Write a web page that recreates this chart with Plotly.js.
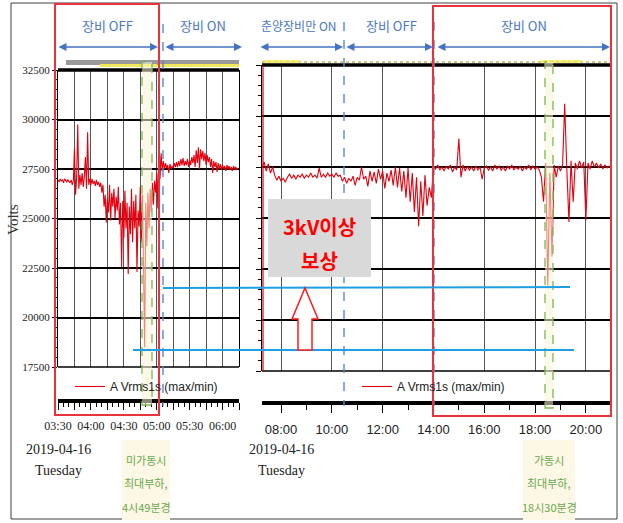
<!DOCTYPE html>
<html><head><meta charset="utf-8">
<script src="https://cdn.plot.ly/plotly-3.0.1.min.js"></script>
<style>html,body{margin:0;padding:0;background:#fff}#chart{width:623px;height:523px}</style>
</head><body><div id="chart"></div>
<script>
// ---------------- data ----------------
const DAY = '2019-04-16';
const seriesName = 'A Vrms1s (max/min)';

// left panel: samples every 1 minute from 03:30
const leftStart = '03:30';
const leftStepMin = 1;
const leftVolts = [
  26950,26850,27000,26900,26950,26800,27000,26900,26850,26950,26900,26800,26950,26700,26900,
  28550,26200,27100,29750,26500,27200,26700,27300,26600,27100,28100,26500,29350,26700,27000,
  26700,27000,26750,26900,26650,26950,26700,26850,26600,26800,
  26300,26700,25600,26200,24800,26000,25300,26700,24900,26300,25600,26500,25000,26100,25400,26600,24700,25800,
  22550,25900,24000,26400,24500,25800,22200,25600,24200,26500,23800,25900,24500,26200,22300,25400,24600,
  26600,23800,26200,22400,18500,25800,23600,26300,24500,26500,25300,26800,25700,26900,26300,27300,25500,
  29400,27000,28300,27400,27900,27500,27800,27550,27700,27300,27750,27500,27650,27550,27800,27600,27850,27600,
  27900,27650,28000,27700,28050,27650,27900,27700,28000,27600,27950,27700,28100,27800,28200,27600,28450,27800,
  28600,27500,28500,28000,28400,27900,28300,27700,28200,27850,28100,27600,28000,27300,27900,27600,27850,27350,
  27800,27500,27750,27450,
  27700,27500,27650,27400,27700,27500,27650,27450,27600,27400,27650,27500,27600,27450,27550
];

// right panel: samples every 5 minutes from 07:15
const rightStart = '07:15';
const rightStepMin = 5;
const rightVolts = [
  27450,27750,27300,27650,27200,27500,27100,
  26850,27050,26800,26950,26750,
  27000,27150,26950,27100,26900,27100,27000,27150,26950,27100,27000,27200,27000,27100,26950,
  27450,27000,
  27150,27000,27200,27050,27150,27000,27200,27050,
  27100,26800,27000,26700,26950,26800,27050,26600,
  27000,26850,27500,26900,27050,26550,27300,26800,27250,26700,27400,26900,
  27300,26450,27200,26800,27350,26600,27500,26500,27450,26300,27300,26000,
  27450,25800,27200,25300,27000,24600,26800,25100,27100,25600,26500,26000,
  27500,
  27400,27600,27350,27500,27300,27550,27400,27600,27250,27500,27350,
  28900,27000,27600,27300,27550,27350,27500,27300,27550,27350,27500,26900,27450,
  27550,27350,27500,27300,27600,27400,27550,27350,27500,27300,27550,27400,27600,
  27350,27500,27400,27550,27300,27500,27400,27600,27350,27550,27400,27500,27350,
  27000,25800,27700,21700,27200,23100,27600,27000,27550,27300,27600,30600,27400,
  24800,27800,25800,27700,27400,27800,27450,27750,24900,27700,27400,27800,27500,
  27700,27450,27650,27400,27600,27450,27550
];

const yTickVals = [17500, 20000, 22500, 25000, 27500, 30000, 32500];
const yTickText = ['17500', '20000', '22500', '25000', '27500', '30000', '32500'];
const leftTickTimes = ['03:30','03:45','04:00','04:15','04:30','04:45','05:00','05:15','05:30','05:45','06:00','06:15'];
const leftTickText  = ['03:30','','04:00','','04:30','','05:00','','05:30','','06:00',''];
const rightTickTimes = ['08:00','10:00','12:00','14:00','16:00','18:00','20:00'];
const rightTickText  = ['08:00','10:00','12:00','14:00','16:00','18:00','20:00'];
const dateLabel = '2019-04-16';
const dayLabel = 'Tuesday';
const phaseLabels = ['장비 OFF','장비 ON','춘양장비만 ON','장비 OFF','장비 ON'];
const noteLeft = ['미가동시','최대부하,','4시49분경'];
const noteRight = ['가동시','최대부하,','18시30분경'];
const boxText = ['3kV이상','보상'];

// ---------------- helpers ----------------
const W = 623, H = 523;
const X = p => p / W;
const Y = p => 1 - p / H;
function stamp(start, i, step) {
  const [h, m] = start.split(':').map(Number);
  const t = h * 60 + m + i * step;
  const hh = String(Math.floor(t / 60)).padStart(2, '0');
  const mm = String(t % 60).padStart(2, '0');
  return DAY + ' ' + hh + ':' + mm;
}
const at = hhmm => DAY + ' ' + hhmm;

const leftX = leftVolts.map((_, i) => stamp(leftStart, i, leftStepMin));
const rightX = rightVolts.map((_, i) => stamp(rightStart, i, rightStepMin));

const RED = '#e3000f';
const traces = [
  {x: leftX, y: leftVolts, xaxis: 'x', yaxis: 'y', type: 'scatter', mode: 'lines',
   line: {color: RED, width: 1.1}, name: seriesName, legend: 'legend', showlegend: true},
  {x: rightX, y: rightVolts, xaxis: 'x2', yaxis: 'y2', type: 'scatter', mode: 'lines',
   line: {color: RED, width: 1.1}, name: seriesName, legend: 'legend2', showlegend: true}
];

const serif = '"Liberation Serif", "DejaVu Serif", serif';
const narrow = '"Liberation Sans Narrow", "Liberation Sans", Arial, sans-serif';
const kr = '"Noto Sans CJK KR", "Noto Sans", sans-serif';

const commonY = {
  range: [17500, 32500], tickmode: 'array', tickvals: yTickVals, ticktext: yTickText,
  showgrid: true, gridcolor: '#000', gridwidth: 2, zeroline: false,
  showline: true, mirror: true, linecolor: '#000', linewidth: 1,
  ticks: 'outside', ticklen: 5, tickcolor: '#000', tickwidth: 1,
  minor: {dtick: 500, ticks: 'outside', ticklen: 3, tickcolor: '#000', showgrid: false},
  fixedrange: true
};

const layout = {
  width: W, height: H, margin: {l: 0, r: 0, t: 0, b: 0},
  paper_bgcolor: '#fff', plot_bgcolor: '#fff',
  font: {family: narrow, size: 12, color: '#222'},
  xaxis: {
    type: 'date', domain: [X(58), X(239)], range: [at('03:30'), at('06:15')],
    anchor: 'free', position: Y(401),
    showline: true, linewidth: 4, linecolor: '#000',
    tickmode: 'array', tickvals: leftTickTimes.map(at), ticktext: leftTickText,
    ticks: 'outside', ticklen: 7, tickcolor: '#000', tickwidth: 1,
    minor: {dtick: 5 * 60000, tick0: at('03:30'), ticks: 'outside', ticklen: 4, tickcolor: '#000', showgrid: false},
    showgrid: true, gridcolor: '#555', gridwidth: 1,
    tickfont: {family: serif, size: 12, color: '#222'}, ticklabelstandoff: 6,
    zeroline: false, fixedrange: true
  },
  yaxis: Object.assign({}, commonY, {
    domain: [Y(367), Y(70)], anchor: 'x',
    tickfont: {family: serif, size: 11, color: '#222'}
  }),
  xaxis2: {
    type: 'date', domain: [X(262), X(610)], range: [at('07:15'), at('20:57')],
    anchor: 'free', position: Y(403),
    showline: true, linewidth: 4, linecolor: '#000',
    tickmode: 'array', tickvals: rightTickTimes.map(at), ticktext: rightTickText,
    ticks: 'outside', ticklen: 8, tickcolor: '#000', tickwidth: 1,
    minor: {dtick: 60 * 60000, tick0: at('08:00'), ticks: 'outside', ticklen: 5, tickcolor: '#000', showgrid: false},
    showgrid: true, gridcolor: '#555', gridwidth: 1,
    tickfont: {family: narrow, size: 13, color: '#222'}, ticklabelstandoff: 5,
    zeroline: false, fixedrange: true
  },
  yaxis2: Object.assign({}, commonY, {
    domain: [Y(371), Y(65)], anchor: 'x2', showticklabels: false
  }),
  legend: {x: X(70), y: Y(372), xanchor: 'left', yanchor: 'top', bgcolor: 'rgba(0,0,0,0)',
           font: {family: narrow, size: 12, color: '#222'}, itemwidth: 30},
  legend2: {x: X(357), y: Y(372), xanchor: 'left', yanchor: 'top', bgcolor: 'rgba(0,0,0,0)',
            font: {family: narrow, size: 12, color: '#222'}, itemwidth: 30},
  shapes: [], annotations: []
};

const S = layout.shapes, A = layout.annotations;
function rect(x0, y0, x1, y1, o) {
  S.push(Object.assign({type: 'rect', xref: 'paper', yref: 'paper', x0: X(x0), x1: X(x1), y0: Y(y1), y1: Y(y0),
    line: {width: 0}}, o));
}
function seg(x0, y0, x1, y1, color, width, dash, layer) {
  S.push({type: 'line', xref: 'paper', yref: 'paper', x0: X(x0), x1: X(x1), y0: Y(y0), y1: Y(y1),
    line: {color: color, width: width, dash: dash || 'solid'}, layer: layer || 'above'});
}
function txt(x, y, text, font, extra) {
  A.push(Object.assign({xref: 'paper', yref: 'paper', x: X(x), y: Y(y), text: text, showarrow: false,
    xanchor: 'center', yanchor: 'middle', font: font}, extra || {}));
}
function dblArrow(x0, x1, y) {
  A.push({xref: 'paper', yref: 'paper', x: X(x1), y: Y(y), ax: x0 - x1, ay: 0, axref: 'pixel', ayref: 'pixel',
    text: '', showarrow: true, arrowhead: 2, startarrowhead: 2, arrowside: 'end+start',
    arrowsize: 1, startarrowsize: 1, arrowwidth: 1.6, arrowcolor: '#4472c4', standoff: 0, startstandoff: 0});
}

// outer frame
rect(11, 3, 617, 519, {line: {color: '#404040', width: 1}, layer: 'below'});
// top strips
rect(66, 60, 239, 65, {fillcolor: '#9a9a9a', layer: 'above'});
rect(100, 64, 157, 67, {fillcolor: '#f0ea5a', layer: 'above'});
rect(160, 64, 239, 67, {fillcolor: '#f0ea5a', layer: 'above'});
seg(262, 62, 610, 62, '#c9c98a', 2, 'dot');
rect(264, 60, 300, 63, {fillcolor: '#f0ea5a', opacity: 0.8, layer: 'above'});
rect(540, 60, 582, 63, {fillcolor: '#f0ea5a', opacity: 0.8, layer: 'above'});
// plot top thick / bottom lines
seg(58, 70, 239, 70, '#000', 3.5);
seg(262, 65, 610, 65, '#000', 3.5);
seg(58, 367, 239, 367, '#000', 1.5);
seg(262, 371, 610, 371, '#000', 1.5);
// red marker line at right panel start
seg(263, 66, 263, 371, RED, 1.2);
// blue dashed phase dividers
seg(163, 24, 163, 406, '#5b87d4', 1.4, 'dash');
seg(344, 22, 344, 406, '#5b87d4', 1.4, 'dash');
seg(434, 22, 434, 406, '#5b87d4', 1.4, 'dash');
// green dashed windows
rect(142, 62, 152, 405, {fillcolor: 'rgba(252,244,214,0.55)', line: {color: '#7fb55a', width: 1.3, dash: 'dash'}, layer: 'above'});
rect(545, 62, 553, 408, {fillcolor: 'rgba(252,244,214,0.55)', line: {color: '#7fb55a', width: 1.3, dash: 'dash'}, layer: 'above'});
// red boxes
rect(55, 4, 159, 415, {line: {color: '#e8323c', width: 2}, layer: 'above'});
rect(433, 6, 611, 416, {line: {color: '#e8323c', width: 2}, layer: 'above'});
// cyan reference lines
seg(163, 288, 570, 287, '#1e9fe3', 2);
seg(133, 350, 574, 350, '#1e9fe3', 2);
// gray callout box
rect(268, 199, 371, 277, {fillcolor: '#d9d9d9', layer: 'above'});
// hollow red up arrow
S.push({type: 'path', xref: 'paper', yref: 'paper', layer: 'above',
  path: `M${X(305)},${Y(288)} L${X(318)},${Y(319)} L${X(312)},${Y(319)} L${X(312)},${Y(350)} L${X(298)},${Y(350)} L${X(298)},${Y(319)} L${X(292)},${Y(319)} Z`,
  fillcolor: '#fff', line: {color: '#ff1a1a', width: 1.5}});
// note boxes
rect(122, 440, 170, 520, {fillcolor: '#fdf8e6', layer: 'above'});
rect(523, 440, 575, 520, {fillcolor: '#fdf8e6', layer: 'above'});

// blue phase arrows
dblArrow(57, 158, 47);
dblArrow(164, 242, 47);
dblArrow(259, 343, 47);
dblArrow(345, 433, 47);
dblArrow(436, 610, 47);

// texts
const blueFont = {family: kr, size: 13, color: '#4a76c6'};
txt(107, 25, phaseLabels[0], blueFont);
txt(203, 25, phaseLabels[1], blueFont);
txt(298, 25, phaseLabels[2], {family: kr, size: 12, color: '#4a76c6'});
txt(391, 25, phaseLabels[3], blueFont);
txt(524, 25, phaseLabels[4], blueFont);

txt(13, 220, 'Volts', {family: serif, size: 15, color: '#333'}, {textangle: -90});

const dateFont = {family: serif, size: 14, color: '#222'};
txt(58, 449, dateLabel, dateFont);
txt(58, 470, dayLabel, dateFont);
txt(281, 449, dateLabel, dateFont);
txt(281, 470, dayLabel, dateFont);

const greenFont = {family: kr, size: 11, color: '#6aa84f'};
[460, 483, 507].forEach((yy, i) => {
  txt(146, yy, noteLeft[i], greenFont);
  txt(549, yy, noteRight[i], greenFont);
});

const boxFont = {family: kr, size: 20, color: '#ff0000', weight: 'bold'};
txt(319, 227, '<b>' + boxText[0] + '</b>', boxFont);
txt(319, 260, '<b>' + boxText[1] + '</b>', boxFont);

Plotly.newPlot('chart', traces, layout, {staticPlot: true, displayModeBar: false});
</script></body></html>
